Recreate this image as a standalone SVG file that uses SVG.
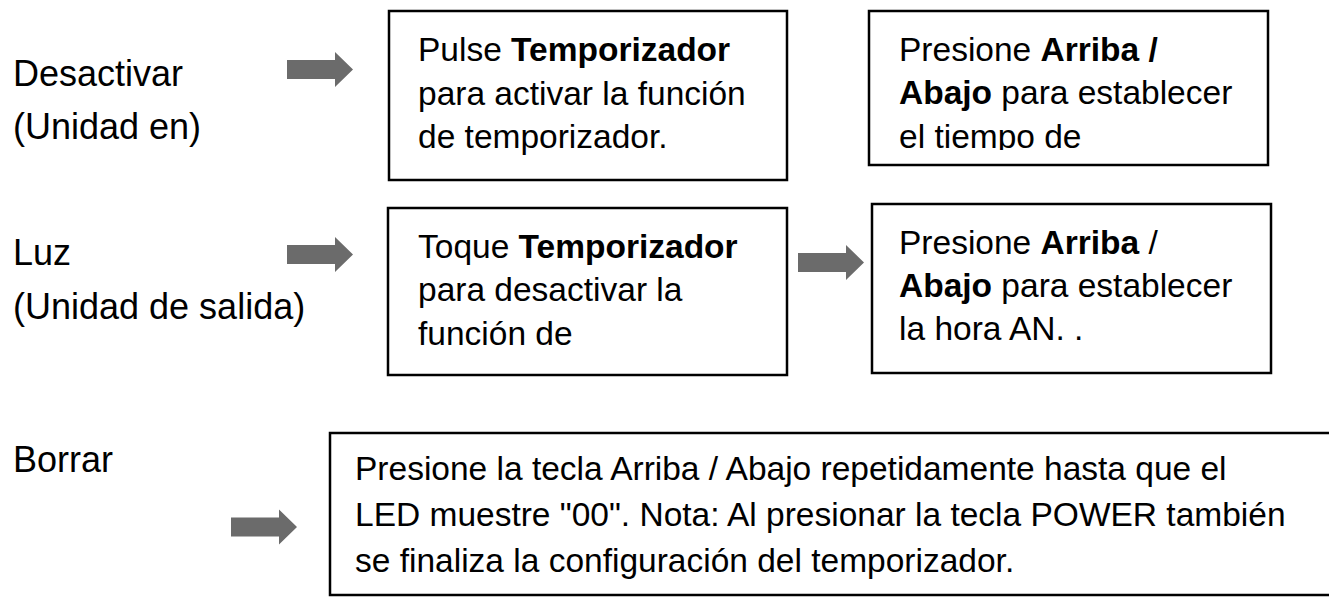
<svg xmlns="http://www.w3.org/2000/svg" width="1329" height="600" viewBox="0 0 1329 600">
<style>
text{font-family:"Liberation Sans",Arial,sans-serif;font-size:33.5px;fill:#000}
.lbl{font-size:36px}
.b{font-weight:bold}
.box{fill:#fff;stroke:#000;stroke-width:2.5}
.arr{fill:#6b6b6b}
</style>
<defs>
<polygon id="arrow" class="arr" points="0,-9.5 48,-9.5 48,-17.5 66,0 48,17.5 48,9.5 0,9.5"/>
<clipPath id="c2"><rect x="868" y="10" width="400" height="140"/></clipPath>
</defs>
<rect width="1329" height="600" fill="#fff"/>

<g id="label-desactivar">
<text class="lbl" x="13" y="86">Desactivar</text>
<text class="lbl" x="13" y="139">(Unidad en)</text>
</g>
<g id="label-luz">
<text class="lbl" x="13" y="265">Luz</text>
<text class="lbl" x="13" y="319">(Unidad de salida)</text>
</g>
<g id="label-borrar">
<text class="lbl" x="13" y="472">Borrar</text>
</g>

<g id="box-pulse">
<rect class="box" x="389" y="11" width="398" height="169"/>
<text x="418" y="61">Pulse <tspan class="b">Temporizador</tspan></text>
<text x="418" y="105">para activar la función</text>
<text x="418" y="148">de temporizador.</text>
</g>
<g id="box-presione-1">
<rect class="box" x="869" y="11" width="399" height="154"/>
<g clip-path="url(#c2)">
<text x="899" y="61">Presione <tspan class="b">Arriba /</tspan></text>
<text x="899" y="104"><tspan class="b">Abajo</tspan> para establecer</text>
<text x="899" y="148">el tiempo de</text>
</g>
</g>
<g id="box-toque">
<rect class="box" x="388" y="208" width="399" height="167"/>
<text x="418" y="258">Toque <tspan class="b">Temporizador</tspan></text>
<text x="418" y="301">para desactivar la</text>
<text x="418" y="345">función de</text>
</g>
<g id="box-presione-2">
<rect class="box" x="872" y="204" width="399" height="169"/>
<text x="899" y="254">Presione <tspan class="b">Arriba</tspan> /</text>
<text x="899" y="297"><tspan class="b">Abajo</tspan> para establecer</text>
<text x="899" y="340">la hora AN. .</text>
</g>
<g id="box-borrar">
<rect class="box" x="330" y="433" width="1020" height="162"/>
<text x="355" y="480">Presione la tecla Arriba / Abajo repetidamente hasta que el</text>
<text x="355" y="526">LED muestre "00". Nota: Al presionar la tecla POWER también</text>
<text x="355" y="572">se finaliza la configuración del temporizador.</text>
</g>

<g id="connectors">
<use href="#arrow" x="287" y="69.5"/>
<use href="#arrow" x="287" y="254.5"/>
<use href="#arrow" x="798" y="262.5"/>
<use href="#arrow" x="231" y="527"/>
</g>
</svg>
